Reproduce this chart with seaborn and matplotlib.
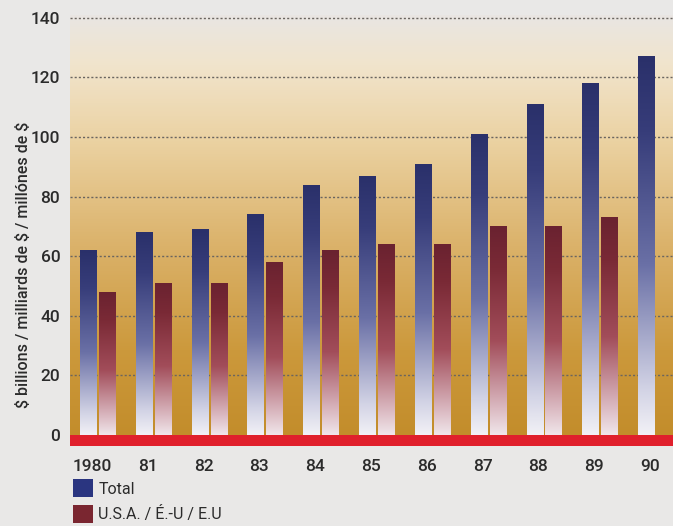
import numpy as np
import pandas as pd
import seaborn as sns
import matplotlib.pyplot as plt
from matplotlib.colors import LinearSegmentedColormap
from matplotlib.patches import Patch

# ---------------- data ----------------
years = ['1980', '81', '82', '83', '84', '85', '86', '87', '88', '89', '90']
total = [62, 68, 69, 74, 84, 87, 91, 101, 111, 118, 127]
usa = [48, 51, 51, 58, 62, 64, 64, 70, 70, 73, np.nan]
series = ['Total', 'U.S.A. / É.-U / E.U']

df = pd.DataFrame({'year': years, series[0]: total, series[1]: usa})
long = df.melt(id_vars='year', var_name='series', value_name='value')

# ---------------- style ----------------
sns.set_theme(style='white')
plt.rcParams['font.family'] = ['Roboto', 'Liberation Sans', 'DejaVu Sans']
page = '#e9e8e7'
ink = '#2b2b2b'

fig = plt.figure(figsize=(6.73, 5.26), dpi=100, facecolor=page)
ax = fig.add_axes([0.104, 0.152, 0.896, 0.820])
ax.set_facecolor(page)

sns.barplot(data=long, x='year', y='value', hue='series', order=years,
            hue_order=series, width=0.68, gap=0.15, errorbar=None,
            palette=['#2d3370', '#6e2330'], legend=False, ax=ax, zorder=3)

# background gradient (grey-white top -> gold bottom)
bg = LinearSegmentedColormap.from_list('bg', [
    (0.0, '#c38d2b'), (0.2, '#cc993c'), (0.45, '#dbb26a'),
    (0.7, '#ebd2a2'), (0.88, '#f1e4cc'), (1.0, '#e9e6e3')])
grad = np.linspace(0, 1, 256).reshape(-1, 1)
ax.imshow(grad, cmap=bg, origin='lower', aspect='auto',
          extent=[-0.493, 10.31, 0, 141], zorder=0)

# red base band
ax.axhspan(-3.7, 0, color='#e0202c', zorder=4, lw=0)

# dotted gridlines
for v in range(20, 141, 20):
    ax.axhline(v, color='#6a6560', lw=1.0, ls=(0, (1.5, 1.5)), zorder=1)

# gradient bar fills
cmaps = {
    'tot': LinearSegmentedColormap.from_list('tot', [
        (0.0, '#f2f1f6'), (0.12, '#d2d3e5'), (0.45, '#6a70a6'),
        (0.8, '#373d7a'), (1.0, '#2a306a')]),
    'us': LinearSegmentedColormap.from_list('us', [
        (0.0, '#f0e6ea'), (0.12, '#dcbcc4'), (0.45, '#a24d5a'),
        (0.8, '#7a2a36'), (1.0, '#6a2230')]),
}
for p in list(ax.patches):
    h = p.get_height()
    if not np.isfinite(h) or h <= 0:
        continue
    fc = p.get_facecolor()
    key = 'tot' if fc[2] > fc[0] else 'us'
    x0 = p.get_x()
    w = p.get_width()
    im = ax.imshow(grad, cmap=cmaps[key], origin='lower', aspect='auto',
                   extent=[x0, x0 + w, 0, h], zorder=3.5)
    im.set_clip_path(p)
    p.set_edgecolor('none')

ax.set_xlim(-0.493, 10.31)
ax.set_ylim(-3.7, 141)

# ticks
ax.set_yticks(range(0, 141, 20))
ax.set_yticklabels([str(v) for v in range(0, 141, 20)])
ax.set_xticks([i - 0.1 for i in range(len(years))])
ax.set_xticklabels(years)
ax.tick_params(axis='both', length=0, labelsize=12.5, labelcolor=ink)
ax.tick_params(axis='y', pad=7)
ax.tick_params(axis='x', pad=9)
for lab in ax.get_xticklabels() + ax.get_yticklabels():
    lab.set_fontweight('medium')
for s in ax.spines.values():
    s.set_visible(False)

ax.set_xlabel('')
ax.set_ylabel(r'\$ billions / milliards de \$ / millónes de \$',
              fontsize=11.5, color=ink, fontweight='medium')
ax.yaxis.set_label_coords(-0.064, 0.42)

handles = [Patch(facecolor='#2a3580', edgecolor='none'),
           Patch(facecolor='#7a2630', edgecolor='none')]
fig.legend(handles, series, loc='upper left',
           bbox_to_anchor=(0.108, 1 - 479 / 526), frameon=False,
           fontsize=11.5, handlelength=1.25, handleheight=1.4,
           handletextpad=0.35, labelspacing=0.45, borderpad=0,
           borderaxespad=0, labelcolor=ink)

fig.savefig('out.png', dpi=100, facecolor=page)
